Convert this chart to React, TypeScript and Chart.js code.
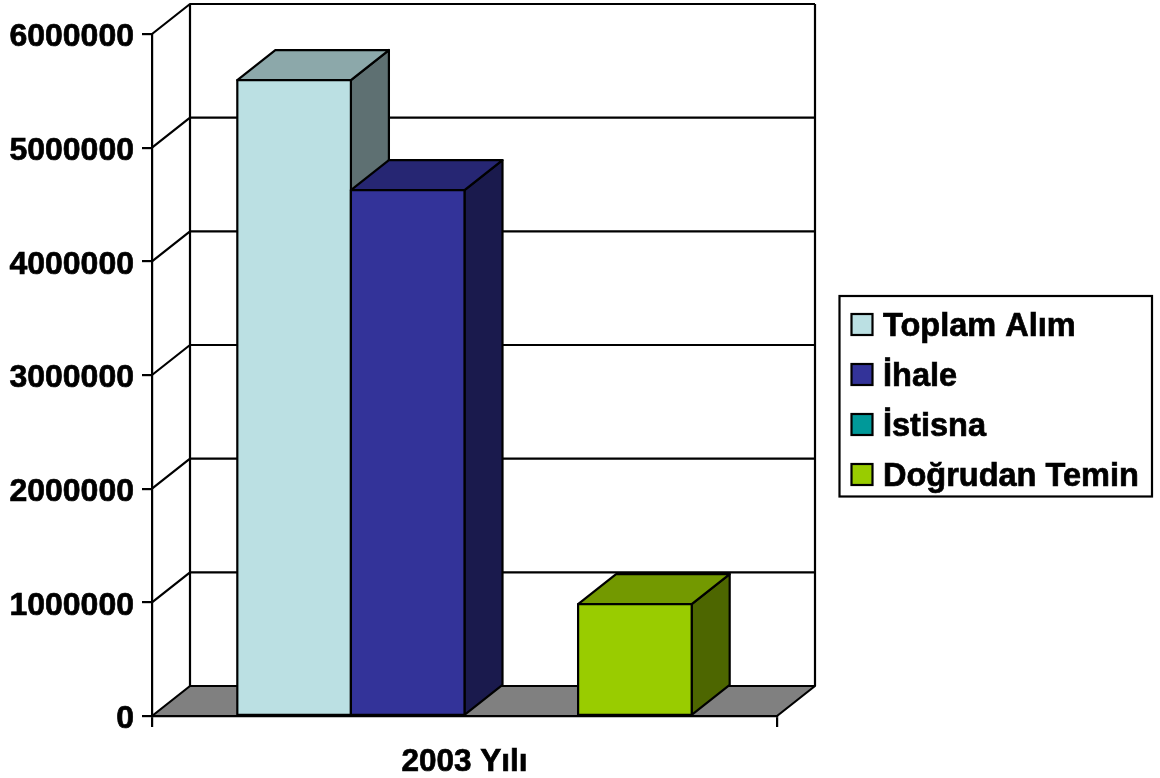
import React, { useEffect, useRef } from "react";
import { Chart, registerables } from "chart.js";

Chart.register(...registerables);

const categories = ["2003 Yılı"];
const seriesNames = ["Toplam Alım", "İhale", "İstisna", "Doğrudan Temin"];
const toplamAlim = [5595000];
const ihale = [4627000];
const istisna = [0];
const dogrudanTemin = [985000];
const seriesValues = [toplamAlim, ihale, istisna, dogrudanTemin];
const seriesColors = ["#BBE0E3", "#333399", "#009999", "#99CC00"];

const FONT = '"Liberation Sans", Arial, sans-serif';
const DEPTH_X = 38;
const DEPTH_Y = -30;
const LINE = 2.2;
const TEXT_WEIGHT = 0.7;

// Darkens a #rrggbb colour for the shaded faces of a bar.
function shade(hex: string, factor: number): string {
  const n = parseInt(hex.slice(1), 16);
  const c = [(n >> 16) & 255, (n >> 8) & 255, n & 255].map((v) => Math.round(v * factor));
  return `rgb(${c[0]},${c[1]},${c[2]})`;
}

function polygon(ctx: CanvasRenderingContext2D, pts: number[][], fill: string) {
  ctx.beginPath();
  pts.forEach(([x, y], i) => (i ? ctx.lineTo(x, y) : ctx.moveTo(x, y)));
  ctx.closePath();
  ctx.fillStyle = fill;
  ctx.fill();
  ctx.stroke();
}

// Side wall, back wall, floor and gridlines of the 3D plot box.
const plotBox = {
  id: "plotBox",
  // Value labels sit slightly below their tick marks.
  afterLayout(chart: any) {
    chart.scales.y.getLabelItems().forEach((item: any) => {
      item.textOffset += 3.5;
    });
  },
  beforeDatasetsDraw(chart: any) {
    const { ctx, chartArea: a, scales } = chart;
    ctx.save();
    ctx.strokeStyle = "#000";
    ctx.lineWidth = LINE;
    ctx.lineJoin = "round";
    ctx.beginPath();
    ctx.moveTo(a.left + DEPTH_X, a.bottom + DEPTH_Y);
    ctx.lineTo(a.left + DEPTH_X, a.top + DEPTH_Y);
    ctx.moveTo(a.right + DEPTH_X, a.bottom + DEPTH_Y);
    ctx.lineTo(a.right + DEPTH_X, a.top + DEPTH_Y);
    for (const tick of scales.y.ticks) {
      if (tick.value === 0) continue;
      const y = scales.y.getPixelForValue(tick.value);
      ctx.moveTo(a.left, y);
      ctx.lineTo(a.left + DEPTH_X, y + DEPTH_Y);
      ctx.lineTo(a.right + DEPTH_X, y + DEPTH_Y);
    }
    ctx.stroke();
    polygon(
      ctx,
      [
        [a.left, a.bottom],
        [a.left + DEPTH_X, a.bottom + DEPTH_Y],
        [a.right + DEPTH_X, a.bottom + DEPTH_Y],
        [a.right, a.bottom],
      ],
      "#808080"
    );
    ctx.restore();
  },
  // Bars are painted together below, so that each one overlaps the previous.
  beforeDatasetDraw() {
    return false;
  },
  afterDatasetsDraw(chart: any) {
    const { ctx } = chart;
    ctx.save();
    ctx.strokeStyle = "#000";
    ctx.lineWidth = LINE;
    ctx.lineJoin = "round";
    chart.data.datasets.forEach((ds: any, i: number) => {
      const meta = chart.getDatasetMeta(i);
      meta.data.forEach((bar: any, j: number) => {
        if (!ds.data[j]) return;
        const { x, y, base, width } = bar.getProps(["x", "y", "base", "width"], true);
        const l = x - width / 2;
        const r = x + width / 2;
        const color = ds.backgroundColor;
        polygon(
          ctx,
          [
            [r, y],
            [r + DEPTH_X, y + DEPTH_Y],
            [r + DEPTH_X, base + DEPTH_Y],
            [r, base],
          ],
          shade(color, 0.5)
        );
        polygon(
          ctx,
          [
            [l, y],
            [l + DEPTH_X, y + DEPTH_Y],
            [r + DEPTH_X, y + DEPTH_Y],
            [r, y],
          ],
          shade(color, 0.75)
        );
        bar.draw(ctx);
        ctx.strokeRect(l, y, width, base - y);
      });
    });
    ctx.restore();
  },
};

// Framed legend at the right of the plot, with outlined colour swatches.
const framedLegend = {
  id: "framedLegend",
  afterDraw(chart: any) {
    const { ctx } = chart;
    ctx.save();
    ctx.strokeStyle = "#000";
    ctx.lineWidth = LINE;
    ctx.strokeRect(839.5, 296, 312.5, 200.5);
    ctx.font = `bold 32.5px ${FONT}`;
    ctx.textBaseline = "alphabetic";
    chart.data.datasets.forEach((ds: any, i: number) => {
      const top = 314 + i * 50;
      ctx.lineWidth = LINE;
      ctx.fillStyle = ds.backgroundColor;
      ctx.fillRect(851.5, top, 21, 21);
      ctx.strokeRect(851.5, top, 21, 21);
      ctx.fillStyle = "#000";
      ctx.lineWidth = TEXT_WEIGHT;
      ctx.fillText(ds.label, 883, top + 22);
      ctx.strokeText(ds.label, 883, top + 22);
    });
    ctx.restore();
  },
};

export default function App() {
  const ref = useRef<HTMLCanvasElement>(null);

  useEffect(() => {
    const chart = new Chart(ref.current!, {
      type: "bar",
      data: {
        labels: categories,
        datasets: seriesNames.map((label, i) => ({
          label,
          data: seriesValues[i],
          backgroundColor: seriesColors[i],
          borderWidth: 0,
          categoryPercentage: 0.727,
          barPercentage: 1,
        })),
      },
      options: {
        responsive: false,
        animation: false,
        events: [],
        layout: { padding: { left: 0, right: 383, top: 34, bottom: 0 } },
        plugins: { legend: { display: false }, tooltip: { enabled: false } },
        scales: {
          x: {
            afterFit: (s: any) => {
              s.height = 62;
            },
            grid: { offset: true, drawOnChartArea: false, tickLength: 11, color: "#000", lineWidth: LINE },
            border: { color: "#000", width: LINE },
            ticks: {
              color: "#000",
              padding: 16,
              font: { family: FONT, size: 31.5, weight: "bold" },
              maxRotation: 0,
              textStrokeColor: "#000",
              textStrokeWidth: TEXT_WEIGHT,
            },
          },
          y: {
            min: 0,
            max: 6000000,
            afterFit: (s: any) => {
              s.width = 152;
            },
            grid: { drawOnChartArea: false, tickLength: 10, color: "#000", lineWidth: LINE },
            border: { color: "#000", width: LINE },
            ticks: {
              stepSize: 1000000,
              color: "#000",
              padding: 8,
              font: { family: FONT, size: 32, weight: "bold" },
              textStrokeColor: "#000",
              textStrokeWidth: TEXT_WEIGHT,
              callback: (v: any) => String(v),
            },
          },
        },
      },
      plugins: [plotBox, framedLegend],
    } as any);
    return () => chart.destroy();
  }, []);

  return (
    <canvas
      ref={ref}
      width={1160}
      height={778}
      style={{ position: "absolute", left: 0, top: 0, width: 1160, height: 778 }}
    />
  );
}
